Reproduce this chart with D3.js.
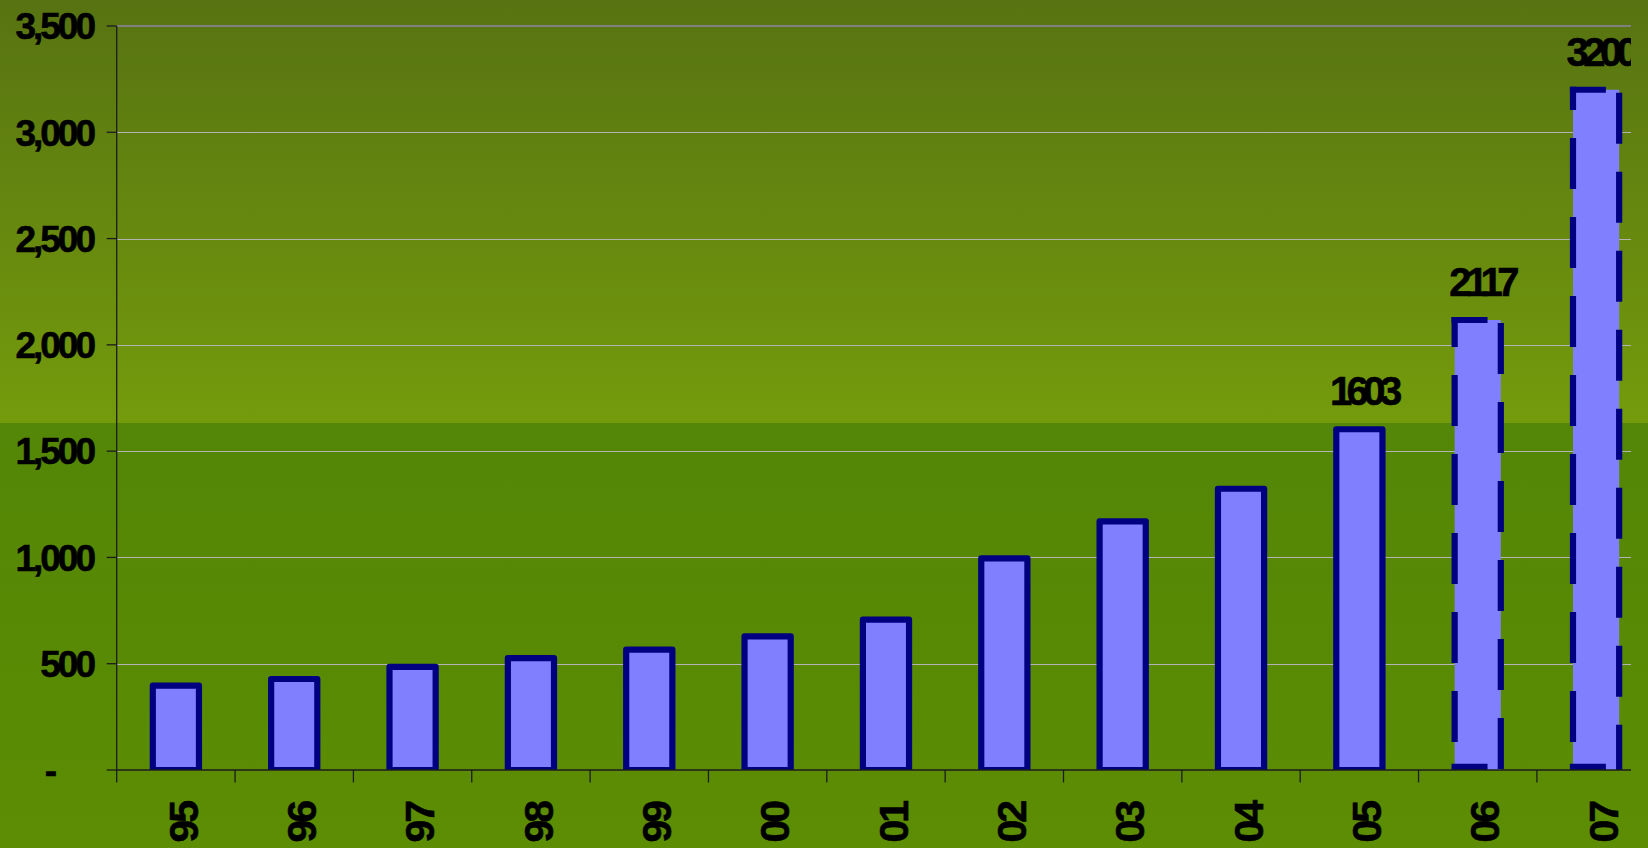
<!DOCTYPE html>
<html>
<head>
<meta charset="utf-8">
<script src="https://cdn.jsdelivr.net/npm/d3@7"></script>
<style>
  html, body { margin: 0; padding: 0; background: #5a8a05; }
  svg { display: block; }
  text { font-family: "Liberation Sans", Arial, sans-serif; font-weight: bold; fill: #000; stroke: #000; stroke-width: 0.6; }
</style>
</head>
<body>
<svg id="chart" width="1648" height="848"></svg>
<script>
// ---- data ----
const categories = ["95","96","97","98","99","00","01","02","03","04","05","06","07"];
const values = [397, 428, 485, 526, 566, 629, 707, 996, 1170, 1323, 1603, 2117, 3200];
const projectedCategories = ["06","07"];
const labelledCategories = ["05","06","07"];
const yTicks = [0, 500, 1000, 1500, 2000, 2500, 3000, 3500];

// ---- layout ----
const W = 1648, H = 848;
const plotLeft = 116.7, plotTop = 26, plotBottom = 770, plotClipRight = 1631;
const step = 118.35;
const svg = d3.select("#chart");

// background
const defs = svg.append("defs");
const gTop = defs.append("linearGradient").attr("id", "bgTop").attr("x1", 0).attr("y1", 0).attr("x2", 0).attr("y2", 1);
gTop.append("stop").attr("offset", "0%").attr("stop-color", "#577312");
gTop.append("stop").attr("offset", "100%").attr("stop-color", "#749b0c");
const gBot = defs.append("linearGradient").attr("id", "bgBot").attr("x1", 0).attr("y1", 0).attr("x2", 0).attr("y2", 1);
gBot.append("stop").attr("offset", "0%").attr("stop-color", "#548607");
gBot.append("stop").attr("offset", "100%").attr("stop-color", "#5c8d03");
svg.append("rect").attr("x", 0).attr("y", 0).attr("width", W).attr("height", 423).attr("fill", "url(#bgTop)");
svg.append("rect").attr("x", 0).attr("y", 423).attr("width", W).attr("height", H - 423).attr("fill", "url(#bgBot)");

defs.append("clipPath").attr("id", "plotClip").append("rect")
  .attr("x", plotLeft).attr("y", 0).attr("width", plotClipRight - plotLeft).attr("height", plotBottom);

// scales
const y = d3.scaleLinear().domain([0, 3500]).range([plotBottom, plotTop]);
const xTick = d3.scaleBand().domain(categories).range([plotLeft, plotLeft + step * categories.length]).padding(0);
const pIn = 0.61;
const x = d3.scaleBand().domain(categories).range([plotLeft, plotLeft + step * categories.length])
  .paddingInner(pIn).paddingOuter(pIn / 2);

// gridlines
const plot = svg.append("g").attr("clip-path", "url(#plotClip)");
plot.selectAll("line.grid").data(yTicks.filter(d => d > 0 && d < 3500)).join("line")
  .attr("class", "grid")
  .attr("x1", plotLeft).attr("x2", plotClipRight)
  .attr("y1", d => Math.round(y(d)) + 0.5).attr("y2", d => Math.round(y(d)) + 0.5)
  .attr("stroke", "#b4b4b4").attr("stroke-width", 1);
plot.append("line")
  .attr("x1", plotLeft).attr("x2", plotClipRight)
  .attr("y1", y(3500)).attr("y2", y(3500))
  .attr("stroke", "#808080").attr("stroke-width", 2);

// bars
const data = categories.map((c, i) => ({ c, v: values[i], proj: projectedCategories.includes(c) }));
const sw = 6.2;
plot.selectAll("rect.bar").data(data.filter(d => !d.proj)).join("rect")
  .attr("class", "bar")
  .attr("x", d => x(d.c)).attr("y", d => y(d.v))
  .attr("width", x.bandwidth()).attr("height", d => y(0) - y(d.v))
  .attr("fill", "#8080ff").attr("stroke", "#000080").attr("stroke-width", sw)
  .attr("stroke-linejoin", "round");

const proj = plot.selectAll("g.proj").data(data.filter(d => d.proj)).join("g").attr("class", "proj");
proj.append("rect")
  .attr("x", d => x(d.c)).attr("y", d => y(d.v))
  .attr("width", x.bandwidth()).attr("height", d => y(0) - y(d.v))
  .attr("fill", "#8080ff");
const dashStyle = sel => sel.attr("stroke", "#000080").attr("stroke-width", sw).attr("fill", "none");
// top edge
proj.append("line").call(dashStyle)
  .attr("x1", d => x(d.c) - sw / 2).attr("x2", d => x(d.c) + x.bandwidth() + sw / 2)
  .attr("y1", d => y(d.v)).attr("y2", d => y(d.v))
  .attr("stroke-dasharray", "36,20");
// bottom edge
proj.append("line").call(dashStyle)
  .attr("x1", d => x(d.c) - sw / 2).attr("x2", d => x(d.c) + x.bandwidth() + sw / 2)
  .attr("y1", y(0) - sw / 2).attr("y2", y(0) - sw / 2)
  .attr("stroke-dasharray", "36,20");
// right edge (top -> bottom)
proj.append("line").call(dashStyle)
  .attr("x1", d => x(d.c) + x.bandwidth()).attr("x2", d => x(d.c) + x.bandwidth())
  .attr("y1", d => y(d.v) + sw / 2).attr("y2", y(0))
  .attr("stroke-dasharray", "51,28");
// left edge (bottom -> top)
proj.append("line").call(dashStyle)
  .attr("x1", d => x(d.c)).attr("x2", d => x(d.c))
  .attr("y1", y(0)).attr("y2", d => y(d.v) - sw / 2)
  .attr("stroke-dasharray", "51,28").attr("stroke-dashoffset", 51);

// data labels
plot.selectAll("text.lbl").data(data.filter(d => labelledCategories.includes(d.c))).join("text")
  .attr("class", "lbl")
  .attr("x", d => x(d.c) + x.bandwidth() / 2 + 4)
  .attr("y", d => y(d.v) - 24)
  .attr("text-anchor", "middle")
  .attr("font-size", 40).attr("letter-spacing", -5.5)
  .text(d => d.v);

// axes
const axisColor = "#1c1c1c";
svg.append("line").attr("x1", plotLeft).attr("x2", plotLeft).attr("y1", plotTop).attr("y2", plotBottom + 12.5)
  .attr("stroke", axisColor).attr("stroke-width", 1.3);
svg.append("line").attr("x1", plotLeft).attr("x2", plotClipRight).attr("y1", plotBottom).attr("y2", plotBottom)
  .attr("stroke", axisColor).attr("stroke-width", 1.3);
svg.selectAll("line.ytick").data(yTicks).join("line").attr("class", "ytick")
  .attr("x1", plotLeft - 10).attr("x2", plotLeft)
  .attr("y1", d => y(d)).attr("y2", d => y(d))
  .attr("stroke", axisColor).attr("stroke-width", 1.3);
svg.selectAll("line.xtick").data(categories.slice(1)).join("line").attr("class", "xtick")
  .attr("x1", d => xTick(d)).attr("x2", d => xTick(d))
  .attr("y1", plotBottom).attr("y2", plotBottom + 12.5)
  .attr("stroke", axisColor).attr("stroke-width", 1.3);

// y labels
const fmt = d3.format(",");
svg.selectAll("text.ylab").data(yTicks).join("text").attr("class", "ylab")
  .attr("x", d => d === 0 ? 57 : 93)
  .attr("y", d => y(d))
  .attr("dy", "0.36em")
  .attr("text-anchor", "end")
  .attr("font-size", 37).attr("letter-spacing", d => d === 0 ? 0 : -3)
  .text(d => d === 0 ? "-" : fmt(d));

// x labels (rotated)
svg.selectAll("text.xlab").data(categories).join("text").attr("class", "xlab")
  .attr("transform", d => `translate(${xTick(d) + xTick.bandwidth() / 2 + 7},803) rotate(-90)`)
  .attr("text-anchor", "end")
  .attr("dy", "0.36em")
  .attr("font-size", 41).attr("letter-spacing", -3)
  .text(d => d);
</script>
</body>
</html>
